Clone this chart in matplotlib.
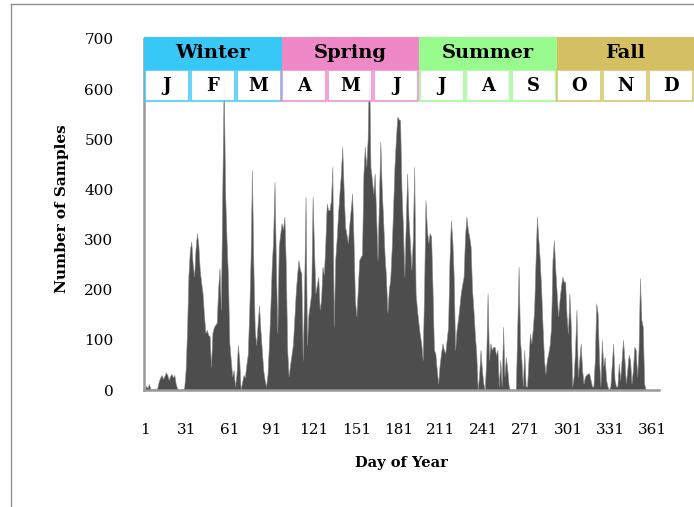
import matplotlib.pyplot as plt
from matplotlib.patches import Rectangle
from matplotlib.lines import Line2D
import numpy as np

# daily sample counts, day 1..365
samples = [
    0, 8, 4, 12, 2, 0, 0, 3, 0, 5,
    18, 25, 30, 22, 28, 35, 30, 20, 28, 32,
    25, 30, 12, 3, 0, 0, 2, 0, 5, 40,
    120, 230, 280, 296, 250, 226, 280, 313, 290, 240,
    215, 193, 150, 114, 120, 110, 107, 46, 114, 125,
    130, 134, 200, 243, 160, 400, 620, 393, 300, 226,
    93, 60, 27, 40, 7, 30, 90, 60, 0, 15,
    30, 25, 50, 70, 150, 259, 439, 250, 120, 90,
    130, 169, 120, 80, 40, 20, 7, 30, 90, 160,
    246, 300, 415, 250, 114, 286, 310, 333, 320, 346,
    250, 80, 27, 50, 70, 90, 140, 193, 230, 259,
    240, 233, 60, 200, 386, 90, 150, 170, 193, 386,
    280, 193, 210, 226, 160, 180, 246, 230, 293, 372,
    359, 359, 379, 445, 126, 259, 300, 350, 392, 430,
    485, 400, 326, 310, 293, 330, 360, 392, 300, 180,
    147, 200, 259, 265, 270, 430, 485, 445, 500, 660,
    445, 420, 392, 432, 350, 259, 380, 495, 400, 339,
    270, 226, 154, 200, 220, 280, 359, 445, 500, 545,
    540, 538, 400, 326, 226, 330, 432, 339, 293, 240,
    300, 445, 193, 160, 134, 110, 93, 60, 200, 379,
    320, 293, 313, 306, 200, 80, 73, 40, 13, 50,
    73, 93, 80, 73, 100, 126, 259, 339, 300, 226,
    80, 120, 140, 166, 193, 210, 226, 306, 346, 320,
    306, 286, 200, 160, 110, 73, 0, 30, 80, 40,
    13, 0, 60, 193, 60, 93, 80, 86, 86, 70,
    80, 7, 60, 7, 126, 27, 66, 40, 7, 0,
    0, 0, 0, 0, 120, 246, 100, 60, 7, 80,
    7, 7, 60, 113, 93, 120, 160, 259, 346, 300,
    259, 200, 126, 60, 33, 60, 73, 90, 126, 259,
    299, 240, 193, 147, 180, 206, 226, 216, 216, 147,
    113, 193, 126, 7, 27, 80, 160, 27, 60, 93,
    40, 13, 27, 30, 33, 33, 20, 7, 7, 60,
    173, 153, 60, 7, 100, 47, 66, 20, 7, 0,
    7, 50, 93, 20, 7, 7, 53, 20, 60, 100,
    60, 13, 40, 70, 60, 13, 40, 86, 80, 27,
    80, 223, 140, 126, 13, 0, 0, 0, 0, 0,
    0, 0, 0, 0, 0,
]
days = np.arange(1, len(samples) + 1)

xtick_days = list(range(1, 362, 30))
ytick_vals = list(range(0, 701, 100))

seasons = ['Winter', 'Spring', 'Summer', 'Fall']
season_colors = ['#38c8f8', '#ee88c6', '#98fb8e', '#d4c063']
months = ['J', 'F', 'M', 'A', 'M', 'J', 'J', 'A', 'S', 'O', 'N', 'D']

W, H = 694, 507
serif = 'DejaVu Serif'
fig = plt.figure(figsize=(W / 100, H / 100), dpi=100)

ax = fig.add_axes([144 / W, 1 - 390 / H, 515 / W, 351 / H])
ax.fill_between(days, samples, color='#4d4d4d', edgecolor='#8c8c8c', lw=0.4)
ax.set_xlim(0.5, 365.5)
ax.set_ylim(0, 700)
ax.set_xticks(xtick_days)
ax.set_yticks(ytick_vals)
ax.tick_params(length=0, labelsize=11)
ax.tick_params(axis='x', pad=24)
ax.tick_params(axis='y', pad=22)
for lab in ax.get_xticklabels() + ax.get_yticklabels():
    lab.set_fontfamily(serif)
for s in ['top', 'right']:
    ax.spines[s].set_visible(False)
for s in ['left', 'bottom']:
    ax.spines[s].set_color('#999999')
    ax.spines[s].set_linewidth(1.8)

fig.text(62 / W, 1 - 209 / H, 'Number of Samples', rotation=90, ha='center',
         va='center', fontsize=11, fontweight='bold', family=serif)
fig.text(401 / W, 1 - 463 / H, 'Day of Year', ha='center', va='center',
         fontsize=10.5, fontweight='bold', family=serif)

# season / month header
hx = fig.add_axes([144 / W, 1 - 102 / H, 550 / W, 65 / H])
hx.set_xlim(0, 12)
hx.set_ylim(0, 2)
hx.axis('off')
for i, (name, col) in enumerate(zip(seasons, season_colors)):
    hx.add_patch(Rectangle((3 * i, 1), 3, 1, facecolor=col, edgecolor='none'))
    hx.text(3 * i + 1.5, 1.5, name, ha='center', va='center', fontsize=14,
            fontweight='bold', family=serif)
    for j in range(3):
        k = 3 * i + j
        hx.add_patch(Rectangle((k + 0.02, 0.03), 0.96, 0.94, facecolor='white',
                               edgecolor=col, lw=1.2, alpha=0.9))
        hx.text(k + 0.5, 0.5, months[k], ha='center', va='center', fontsize=13,
                fontweight='bold', family=serif)

# chart frame (left and top edges)
fig.add_artist(Line2D([11 / W, 11 / W], [0, 1 - 4 / H], color='#8f8f8f', lw=1))
fig.add_artist(Line2D([11 / W, 1], [1 - 4 / H, 1 - 4 / H], color='#8f8f8f', lw=1))

fig.savefig('out.png', dpi=100)
